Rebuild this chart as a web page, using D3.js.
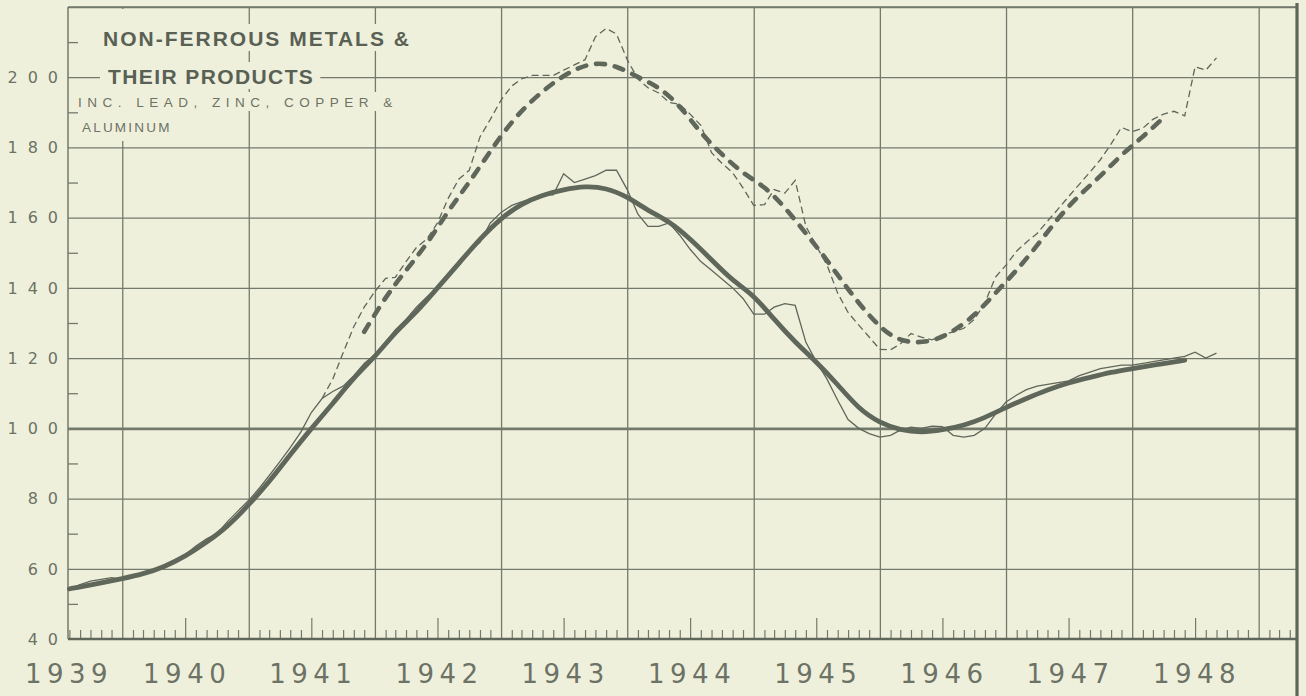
<!DOCTYPE html>
<html>
<head>
<meta charset="utf-8">
<script src="https://cdn.jsdelivr.net/npm/d3@7"></script>
<style>
  body { margin: 0; background: #eff0dc; }
  svg { display: block; }
</style>
</head>
<body>
<svg id="chart" width="1306" height="696"></svg>
<script>
// ---- data (index numbers) ----
const yearLabels = ["1939", "1940", "1941", "1942", "1943", "1944", "1945", "1946", "1947", "1948"];
const yTickValues = [40, 60, 80, 100, 120, 140, 160, 180, 200];
const titleLines = ["NON-FERROUS METALS &", "THEIR PRODUCTS", "INC. LEAD, ZINC, COPPER &", "ALUMINUM"];

// lower pair: monthly index (thin) and its trend (thick)
const lowerMonthly = [
  ["1939-08", 54.3], ["1939-09", 55.5], ["1939-10", 56.5], ["1939-11", 57], ["1939-12", 57.5],
  ["1940-01", 57], ["1940-02", 57.5], ["1940-03", 58.5], ["1940-04", 59.5], ["1940-05", 61],
  ["1940-06", 62.5], ["1940-07", 64], ["1940-08", 66.5], ["1940-09", 68.5], ["1940-10", 70],
  ["1940-11", 73.5], ["1940-12", 76.5], ["1941-01", 79.5], ["1941-02", 83], ["1941-03", 86.5],
  ["1941-04", 90.5], ["1941-05", 94.5], ["1941-06", 99], ["1941-07", 104.5], ["1941-08", 108.5],
  ["1941-09", 110.5], ["1941-10", 112], ["1941-11", 115], ["1941-12", 118.5], ["1942-01", 121],
  ["1942-02", 124.5], ["1942-03", 128], ["1942-04", 131], ["1942-05", 134.5], ["1942-06", 137.5],
  ["1942-07", 140], ["1942-08", 144], ["1942-09", 147.5], ["1942-10", 150.5], ["1942-11", 153],
  ["1942-12", 158.5], ["1943-01", 161.5], ["1943-02", 163.5], ["1943-03", 164.5], ["1943-04", 165.5],
  ["1943-05", 166.5], ["1943-06", 166.5], ["1943-07", 172.5], ["1943-08", 170], ["1943-09", 171],
  ["1943-10", 172], ["1943-11", 173.5], ["1943-12", 173.5], ["1944-01", 168], ["1944-02", 161],
  ["1944-03", 157.5], ["1944-04", 157.5], ["1944-05", 158.5], ["1944-06", 155], ["1944-07", 151],
  ["1944-08", 147.5], ["1944-09", 145], ["1944-10", 142.5], ["1944-11", 140], ["1944-12", 137],
  ["1945-01", 132.5], ["1945-02", 132.5], ["1945-03", 134.5], ["1945-04", 135.5], ["1945-05", 135],
  ["1945-06", 124.5], ["1945-07", 119], ["1945-08", 114], ["1945-09", 108], ["1945-10", 102.5],
  ["1945-11", 100], ["1945-12", 98.5], ["1946-01", 97.5], ["1946-02", 98], ["1946-03", 99.5],
  ["1946-04", 100.3], ["1946-05", 100], ["1946-06", 100.6], ["1946-07", 100.5], ["1946-08", 98],
  ["1946-09", 97.5], ["1946-10", 98], ["1946-11", 100], ["1946-12", 104], ["1947-01", 107.5],
  ["1947-02", 109.5], ["1947-03", 111], ["1947-04", 112], ["1947-05", 112.5], ["1947-06", 113],
  ["1947-07", 113.5], ["1947-08", 115], ["1947-09", 116], ["1947-10", 117], ["1947-11", 117.5],
  ["1947-12", 118], ["1948-01", 118], ["1948-02", 118.5], ["1948-03", 119], ["1948-04", 119.5],
  ["1948-05", 120], ["1948-06", 120.5], ["1948-07", 121.7], ["1948-08", 120], ["1948-09", 121.4]
];

const lowerTrend = [
  ["1939-08", 54.3], ["1939-09", 54.8], ["1939-11", 56], ["1940-01", 57.2], ["1940-03", 58.5],
  ["1940-05", 60.5], ["1940-07", 63.5], ["1940-09", 67.5], ["1940-11", 72], ["1941-01", 78.2],
  ["1941-03", 84.7], ["1941-05", 92.5], ["1941-07", 100], ["1941-09", 107], ["1941-11", 114.5],
  ["1942-01", 120.3], ["1942-03", 127.5], ["1942-05", 133], ["1942-07", 140], ["1942-09", 147],
  ["1942-11", 154], ["1943-01", 159.9], ["1943-03", 164], ["1943-05", 166.5], ["1943-07", 168],
  ["1943-09", 169], ["1943-11", 168.5], ["1944-01", 166], ["1944-03", 162], ["1944-05", 159],
  ["1944-07", 154], ["1944-09", 148], ["1944-11", 142], ["1945-01", 138], ["1945-03", 131],
  ["1945-05", 124.5], ["1945-07", 119], ["1945-09", 112.5], ["1945-11", 105.5], ["1946-01", 101.5],
  ["1946-03", 99.5], ["1946-05", 98.8], ["1946-07", 99.5], ["1946-09", 100.8], ["1946-11", 103],
  ["1947-01", 106], ["1947-03", 108.5], ["1947-05", 111], ["1947-07", 113], ["1947-09", 114.5],
  ["1947-11", 116], ["1948-01", 117], ["1948-03", 118], ["1948-06", 119.4]
];

// upper pair (dashed): monthly index (thin) and its trend (thick)
const upperMonthly = [
  ["1941-08", 108.5], ["1941-09", 114], ["1941-10", 121.5], ["1941-11", 129], ["1941-12", 134.5],
  ["1942-01", 139], ["1942-02", 142.7], ["1942-03", 143], ["1942-04", 147.5], ["1942-05", 151.5],
  ["1942-06", 154], ["1942-07", 158.5], ["1942-08", 165.5], ["1942-09", 171], ["1942-10", 173.5],
  ["1942-11", 183], ["1942-12", 188], ["1943-01", 193.5], ["1943-02", 197.5], ["1943-03", 199.5],
  ["1943-04", 200.5], ["1943-05", 200.5], ["1943-06", 200.5], ["1943-07", 202], ["1943-08", 203.5],
  ["1943-09", 205], ["1943-10", 211.5], ["1943-11", 213.9], ["1943-12", 212.3], ["1944-01", 205],
  ["1944-02", 199.5], ["1944-03", 197], ["1944-04", 195.5], ["1944-05", 192.8], ["1944-06", 192.3],
  ["1944-07", 189.5], ["1944-08", 186.3], ["1944-09", 178.5], ["1944-10", 175.5], ["1944-11", 172.8],
  ["1944-12", 168.5], ["1945-01", 163.5], ["1945-02", 163.7], ["1945-03", 168], ["1945-04", 167],
  ["1945-05", 170.6], ["1945-06", 157.5], ["1945-07", 152], ["1945-08", 146.5], ["1945-09", 138.5],
  ["1945-10", 133], ["1945-11", 129.4], ["1945-12", 126], ["1946-01", 122.5], ["1946-02", 122.4],
  ["1946-03", 124], ["1946-04", 127], ["1946-05", 126], ["1946-06", 125.2], ["1946-07", 126.5],
  ["1946-08", 127.5], ["1946-09", 128.5], ["1946-10", 131], ["1946-11", 135.7], ["1946-12", 143],
  ["1947-01", 146.5], ["1947-02", 150.5], ["1947-03", 153], ["1947-04", 155.5], ["1947-05", 159],
  ["1947-06", 162.5], ["1947-07", 166], ["1947-08", 169.5], ["1947-09", 173], ["1947-10", 176.5],
  ["1947-11", 181], ["1947-12", 185.7], ["1948-01", 184.5], ["1948-02", 185.5], ["1948-03", 188],
  ["1948-04", 189.5], ["1948-05", 190.3], ["1948-06", 189], ["1948-07", 203], ["1948-08", 202],
  ["1948-09", 205.5]
];

const upperTrend = [
  ["1941-12", 127.5], ["1942-02", 137.5], ["1942-04", 145], ["1942-06", 152.5], ["1942-08", 162],
  ["1942-10", 170], ["1942-12", 179], ["1943-02", 187.5], ["1943-04", 193.5], ["1943-06", 198.5],
  ["1943-08", 202.3], ["1943-10", 204.3], ["1943-12", 203.3], ["1944-02", 200], ["1944-04", 197.3],
  ["1944-06", 192], ["1944-08", 184], ["1944-10", 178], ["1944-12", 172.5], ["1945-02", 169],
  ["1945-04", 163], ["1945-06", 155.5], ["1945-08", 148], ["1945-10", 139.5], ["1945-12", 132],
  ["1946-02", 126], ["1946-04", 124.3], ["1946-06", 124.7], ["1946-08", 127.5], ["1946-10", 132],
  ["1946-12", 138.5], ["1947-02", 145], ["1947-04", 152], ["1947-06", 160], ["1947-08", 166.5],
  ["1947-10", 171.7], ["1947-12", 178], ["1948-02", 183], ["1948-04", 188.5]
];

// ---- layout ----
const paper = "#eff0dc";
const ink = "#5f665a";
const gridInk = "#737a6c";
const labelInk = "#6c7265";

const plotLeft = 68, plotRight = 1296, plotTop = 7, plotBottom = 639;
const parseMonth = d3.timeParse("%Y-%m");

const svg = d3.select("#chart");
svg.append("rect").attr("width", 1306).attr("height", 696).attr("fill", paper);

const x = d3.scaleTime()
  .domain([new Date(1939, 6, 28), new Date(1949, 3, 19)])
  .range([plotLeft, plotRight]);
const y = d3.scaleLinear()
  .domain([40, 220])
  .range([plotBottom, plotTop]);

// horizontal grid
let hGrid = svg.append("g")
  .attr("transform", "translate(" + plotLeft + ",0)")
  .call(d3.axisLeft(y)
    .tickValues([60, 80, 100, 120, 140, 160, 180, 200, 220])
    .tickSize(-(plotRight - plotLeft))
    .tickFormat(""));
hGrid.select(".domain").remove();
hGrid.selectAll(".tick line")
  .attr("stroke", gridInk)
  .attr("stroke-width", d => d === 100 ? 2.6 : 1.3);

// vertical grid at each January
const yearStarts = d3.range(1940, 1950).map(yr => new Date(yr, 0, 1));
let vGrid = svg.append("g")
  .attr("transform", "translate(0," + plotBottom + ")")
  .call(d3.axisBottom(x)
    .tickValues(yearStarts)
    .tickSize(-(plotBottom - plotTop))
    .tickFormat(""));
vGrid.select(".domain").remove();
vGrid.selectAll(".tick line").attr("stroke", gridInk).attr("stroke-width", 1.3);

// month ticks along the bottom, longer at mid-year
const months = d3.timeMonth.range(new Date(1939, 7, 1), new Date(1949, 4, 1))
  .filter(d => d.getMonth() !== 0);
let mTicks = svg.append("g")
  .attr("transform", "translate(0," + plotBottom + ")")
  .call(d3.axisBottom(x)
    .tickValues(months)
    .tickSizeInner(-9)
    .tickSizeOuter(0)
    .tickFormat(""));
mTicks.select(".domain").remove();
mTicks.selectAll(".tick line")
  .attr("stroke", gridInk)
  .attr("stroke-width", 1.2)
  .attr("y2", d => d.getMonth() === 6 ? -21 : -9);

// minor ticks on left axis at odd tens
const minorY = d3.range(50, 220, 20);
let yMinor = svg.append("g")
  .attr("transform", "translate(" + plotLeft + ",0)")
  .call(d3.axisRight(y).tickValues(minorY).tickSize(10).tickFormat(""));
yMinor.select(".domain").remove();
yMinor.selectAll(".tick line").attr("stroke", gridInk).attr("stroke-width", 1.3);

// frame
svg.append("line").attr("x1", plotLeft).attr("x2", plotRight).attr("y1", plotBottom).attr("y2", plotBottom)
  .attr("stroke", ink).attr("stroke-width", 2.4);
svg.append("line").attr("x1", plotLeft).attr("x2", plotLeft).attr("y1", plotTop).attr("y2", plotBottom)
  .attr("stroke", gridInk).attr("stroke-width", 1.5);
svg.append("line").attr("x1", plotLeft).attr("x2", plotRight).attr("y1", plotTop).attr("y2", plotTop)
  .attr("stroke", gridInk).attr("stroke-width", 1.3);
svg.append("line").attr("x1", plotRight + 1).attr("x2", plotRight + 1).attr("y1", plotTop - 4).attr("y2", 696)
  .attr("stroke", ink).attr("stroke-width", 3.2);

// y labels (wide letter spacing, as in the original lettering)
svg.append("g").selectAll("text")
  .data(yTickValues)
  .join("text")
  .attr("x", 68)
  .attr("y", d => y(d))
  .attr("dy", "0.36em")
  .attr("text-anchor", "end")
  .attr("font-family", "'DejaVu Sans', sans-serif")
  .attr("font-size", 16)
  .attr("letter-spacing", 10)
  .attr("fill", labelInk)
  .text(d => d);

// year labels centred on mid-year
svg.append("g").selectAll("text")
  .data(yearLabels)
  .join("text")
  .attr("x", d => Math.max(x(new Date(+d, 6, 1)), 67) + 2)
  .attr("y", 683)
  .attr("text-anchor", "middle")
  .attr("font-family", "'DejaVu Sans', sans-serif")
  .attr("font-size", 26)
  .attr("letter-spacing", 5.5)
  .attr("fill", labelInk)
  .text(d => d);

// ---- series ----
const lineTrend = d3.line()
  .x(d => x(parseMonth(d[0])))
  .y(d => y(d[1]))
  .curve(d3.curveBasis);
const lineMonthly = d3.line()
  .x(d => x(parseMonth(d[0])))
  .y(d => y(d[1]));

svg.append("path").datum(upperMonthly)
  .attr("d", lineMonthly)
  .attr("fill", "none").attr("stroke", ink).attr("stroke-width", 1.3)
  .attr("stroke-dasharray", "7,4");
svg.append("path").datum(lowerMonthly)
  .attr("d", lineMonthly)
  .attr("fill", "none").attr("stroke", ink).attr("stroke-width", 1.3);
svg.append("path").datum(upperTrend)
  .attr("d", lineTrend)
  .attr("fill", "none").attr("stroke", ink).attr("stroke-width", 4.6)
  .attr("stroke-linecap", "round")
  .attr("stroke-dasharray", "9,10");
svg.append("path").datum(lowerTrend)
  .attr("d", lineTrend)
  .attr("fill", "none").attr("stroke", ink).attr("stroke-width", 4.8)
  .attr("stroke-linecap", "round");

// ---- title block ----
const titleStyle = [
  { x: 103, y: 46, size: 21, weight: "bold", ls: 2 },
  { x: 108, y: 84, size: 21, weight: "bold", ls: 1.4 },
  { x: 78, y: 107, size: 13.5, weight: "normal", ls: 5.5 },
  { x: 82, y: 132, size: 13.5, weight: "normal", ls: 2.2 }
];
const titleG = svg.append("g");
titleLines.forEach((t, i) => {
  const s = titleStyle[i];
  const bg = titleG.append("rect").attr("fill", paper);
  const txt = titleG.append("text")
    .attr("x", s.x).attr("y", s.y)
    .attr("font-family", "'Liberation Sans', Arial, sans-serif")
    .attr("font-size", s.size)
    .attr("font-weight", s.weight)
    .attr("letter-spacing", s.ls)
    .attr("fill", i < 2 ? "#596054" : labelInk)
    .text(t);
  const bb = txt.node().getBBox();
  bg.attr("x", bb.x - 8).attr("y", bb.y - 3)
    .attr("width", bb.width + 14).attr("height", bb.height + 4);
});
// the 1940 grid line does not run through the title block
titleG.insert("rect", ":first-child")
  .attr("x", x(new Date(1940, 0, 1)) - 3).attr("y", plotTop + 2)
  .attr("width", 6).attr("height", 132)
  .attr("fill", paper);
</script>
</body>
</html>
